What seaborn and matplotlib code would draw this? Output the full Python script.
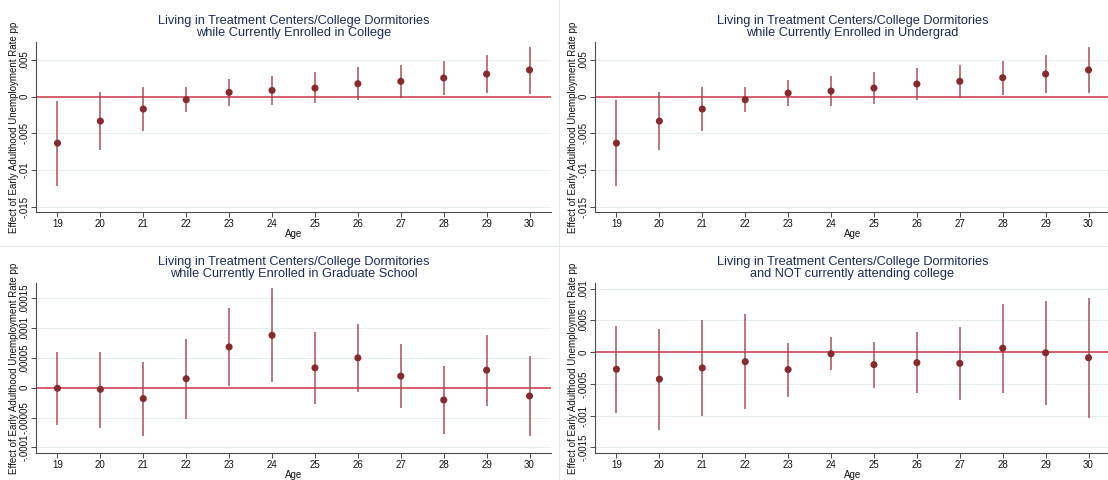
import matplotlib
matplotlib.use("Agg")
import matplotlib.pyplot as plt
from matplotlib.lines import Line2D
import numpy as np
import pandas as pd
import seaborn as sns

# ---- data -------------------------------------------------------------
ages = [19, 20, 21, 22, 23, 24, 25, 26, 27, 28, 29, 30]

# Enrolled in college
college_coef = [-0.00632, -0.00332, -0.00168, -0.00041, 0.00059, 0.00086,
                0.00118, 0.00177, 0.00209, 0.00255, 0.00309, 0.00364]
college_lo = [-0.01210, -0.00723, -0.00464, -0.00209, -0.00123, -0.00114,
              -0.00091, -0.00050, -0.00018, 0.00023, 0.00050, 0.00041]
college_hi = [-0.00055, 0.00060, 0.00127, 0.00127, 0.00236, 0.00286,
              0.00336, 0.00400, 0.00432, 0.00486, 0.00568, 0.00677]

# Enrolled in undergrad
ugrad_coef = [-0.00632, -0.00332, -0.00168, -0.00041, 0.00050, 0.00077,
              0.00118, 0.00173, 0.00209, 0.00259, 0.00309, 0.00364]
ugrad_lo = [-0.01210, -0.00723, -0.00464, -0.00209, -0.00127, -0.00127,
            -0.00095, -0.00050, -0.00018, 0.00027, 0.00055, 0.00045]
ugrad_hi = [-0.00050, 0.00060, 0.00127, 0.00127, 0.00227, 0.00277,
            0.00336, 0.00390, 0.00432, 0.00486, 0.00568, 0.00677]

# Enrolled in graduate school
grad_coef = [-0.0000010, -0.0000028, -0.0000183, 0.0000150, 0.0000683, 0.0000878,
             0.0000333, 0.0000500, 0.0000194, -0.0000206, 0.0000294, -0.0000139]
grad_lo = [-0.0000622, -0.0000672, -0.0000806, -0.0000528, 0.0000028, 0.0000094,
           -0.0000272, -0.0000078, -0.0000339, -0.0000778, -0.0000300, -0.0000806]
grad_hi = [0.0000594, 0.0000606, 0.0000433, 0.0000822, 0.0001340, 0.0001670,
           0.0000933, 0.0001070, 0.0000728, 0.0000361, 0.0000889, 0.0000533]

# Not attending college
notcol_coef = [-0.000270, -0.000426, -0.000249, -0.000150, -0.000275, -0.000026,
               -0.000197, -0.000166, -0.000177, 0.000062, -0.000010, -0.000088]
notcol_lo = [-0.000955, -0.001225, -0.001007, -0.000903, -0.000711, -0.000280,
             -0.000560, -0.000649, -0.000748, -0.000644, -0.000826, -0.001033]
notcol_hi = [0.000415, 0.000363, 0.000509, 0.000602, 0.000151, 0.000234,
             0.000166, 0.000322, 0.000400, 0.000763, 0.000805, 0.000857]

titles = [
    "Living in Treatment Centers/College Dormitories\nwhile Currently Enrolled in College",
    "Living in Treatment Centers/College Dormitories\nwhile Currently Enrolled in Undergrad",
    "Living in Treatment Centers/College Dormitories\nwhile Currently Enrolled in Graduate School",
    "Living in Treatment Centers/College Dormitories\nand NOT currently attending college",
]

top_ticks = [-0.015, -0.01, -0.005, 0, 0.005]
top_labels = ["-.015", "-.01", "-.005", "0", ".005"]
grad_ticks = [-0.0001, -0.00005, 0, 0.00005, 0.0001, 0.00015]
grad_labels = ["-.0001", "-.00005", "0", ".00005", ".0001", ".00015"]
notcol_ticks = [-0.0015, -0.001, -0.0005, 0, 0.0005, 0.001]
notcol_labels = ["-.0015", "-.001", "-.0005", "0", ".0005", ".001"]

y_label = "Effect of Early Adulthood Unemployment Rate pp"
x_label = "Age"

# ---- style ------------------------------------------------------------
sns.set_theme(style="white")
plt.rcParams["font.family"] = ["Liberation Sans", "DejaVu Sans"]

TITLE_C = "#1c2a55"
POINT_C = "#862a30"
CI_C = "#a2434d"
ZERO_C = "#d6606e"
GRID_C = "#e6eef0"
AXIS_C = "#4a4a4a"

W, H = 1108, 480
fig = plt.figure(figsize=(W / 100, H / 100), dpi=100)
fig.patch.set_facecolor("white")


def px_axes(left, top, right, bottom):
    return fig.add_axes([left / W, 1 - bottom / H, (right - left) / W, (bottom - top) / H])


panels = [
    (px_axes(36, 42, 551, 212), college_coef, college_lo, college_hi, top_ticks, top_labels, (-0.0157, 0.00745)),
    (px_axes(595, 42, 1110, 212), ugrad_coef, ugrad_lo, ugrad_hi, top_ticks, top_labels, (-0.0157, 0.00745)),
    (px_axes(36, 283, 551, 453), grad_coef, grad_lo, grad_hi, grad_ticks, grad_labels, (-0.0001095, 0.0001755)),
    (px_axes(595, 283, 1110, 453), notcol_coef, notcol_lo, notcol_hi, notcol_ticks, notcol_labels, (-0.00159, 0.00109)),
]

for (ax, coef, lo, hi, yt, yl, ylim), title in zip(panels, titles):
    df = pd.DataFrame({"age": ages, "coef": coef, "lo": lo, "hi": hi})

    ax.set_xlim(18.5, 30.5)
    ax.set_ylim(*ylim)

    for t in yt:
        ax.axhline(t, color=GRID_C, lw=0.8, zorder=0)
    ax.axhline(0, color=ZERO_C, lw=1.4, zorder=1)

    ax.vlines(df["age"], df["lo"], df["hi"], color=CI_C, lw=1.2, alpha=0.85, zorder=2)
    sns.scatterplot(data=df, x="age", y="coef", ax=ax, color=POINT_C, s=26,
                    edgecolor="none", linewidth=0, zorder=3, legend=False)

    ax.set_xticks(ages, [str(a) for a in ages])
    ax.set_yticks(yt, yl)
    for lab in ax.get_yticklabels():
        lab.set_rotation(90)
        lab.set_va("center")

    ax.tick_params(axis="both", which="major", direction="out", length=3.5, width=0.7,
                   color=AXIS_C, labelsize=7, pad=1.2, labelcolor="#111111",
                   left=True, bottom=True)
    ax.set_xlabel(x_label, fontsize=7, labelpad=0, color="#111111")
    ax.set_ylabel(y_label, fontsize=7, labelpad=0.5, color="#111111")

    for side in ("top", "right"):
        ax.spines[side].set_visible(False)
    for side in ("left", "bottom"):
        ax.spines[side].set_color(AXIS_C)
        ax.spines[side].set_linewidth(0.8)

    ax.set_title(title, fontsize=9.2, color=TITLE_C, linespacing=1.0, pad=4)
    ax.set_facecolor("white")

# light borders between the combined graph regions
fig.add_artist(Line2D([0, 1], [1 - 246 / H] * 2, transform=fig.transFigure,
                      color="#e2e9eb", lw=0.8))
fig.add_artist(Line2D([559 / W] * 2, [0, 1], transform=fig.transFigure,
                      color="#e2e9eb", lw=0.8))

fig.savefig("out.png", dpi=100)
